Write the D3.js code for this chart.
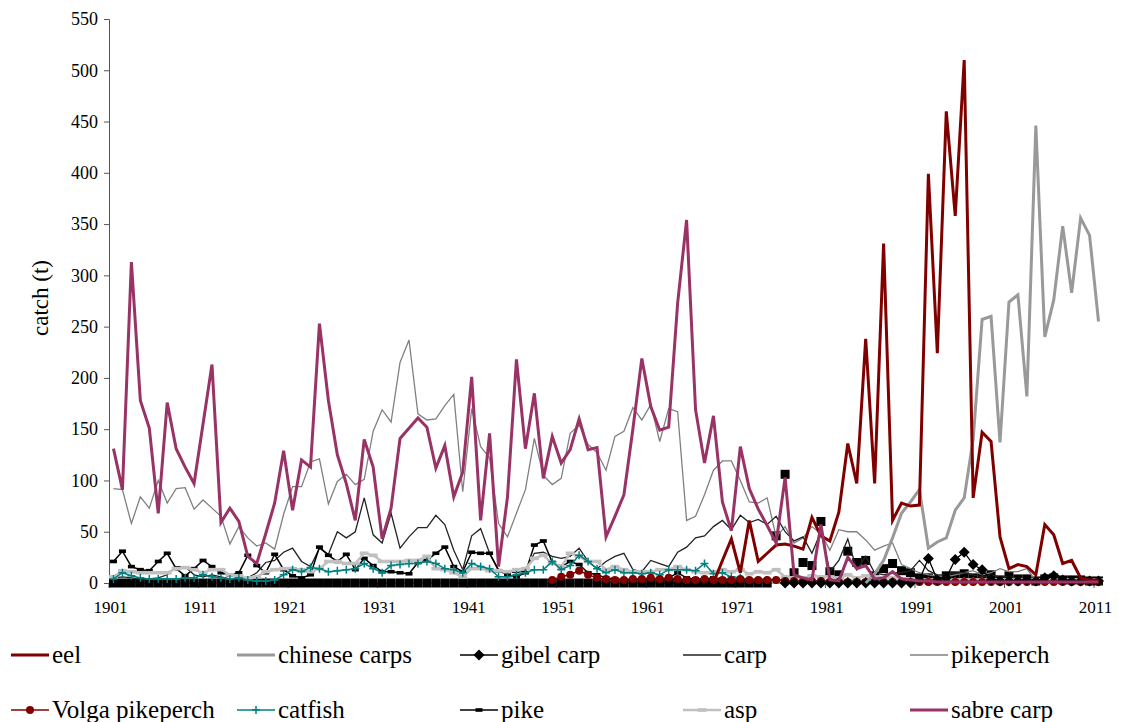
<!DOCTYPE html>
<html><head><meta charset="utf-8">
<script src="https://cdn.jsdelivr.net/npm/d3@7"></script>
<style>body{margin:0;background:#fff;} svg text{font-family:"Liberation Serif","Times New Roman",serif;}</style>
</head><body>
<svg id="chart" width="1121" height="722"></svg>
<script>
const FONT = '"Liberation Serif","Times New Roman",serif';
const years = d3.range(1901, 2012);
const xLabels = [1901,1911,1921,1931,1941,1951,1961,1971,1981,1991,2001,2011];
const yTicks = [0,50,100,150,200,250,300,350,400,450,500,550];
const N = null;

const sabreCarp = [131,91,313,178,151,68,176,131,113,97,
 155,213,59,73,60,26,19,48,78,129,
 71,120,113,253,178,125,97,61,140,113,
 43,73,141,151,161,152,112,134,84,108,
 201,61,146,16,84,218,131,185,102,143,
 117,130,160,130,132,45,65,86,150,219,
 172,149,152,273,354,169,117,163,79,51,
 133,92,72,56,39,103,8,5,3,57,
 3,2,25,14,17,4,5,11,4,3,
 2,2,1,1,1,1,1,1,1,1,
 1,1,1,1,1,1,1,1,1,1,1];
const pikeperch = [92,91,58,84,73,100,78,92,93,72,
 81,73,65,38,55,44,36,39,33,67,
 94,94,118,121,77,99,106,96,101,148,
 169,157,215,237,165,159,160,173,184,89,
 170,133,122,58,45,68,91,141,105,96,
 102,146,154,135,127,110,143,148,171,159,
 174,138,170,167,61,65,86,110,119,119,
 100,79,78,83,45,55,39,44,55,48,
 32,52,50,50,42,32,36,39,18,14,
 10,8,7,6,8,10,12,8,10,14,
 11,11,14,2,3,3,4,3,3,3,3];
const carp = [5,6,5,4,4,5,8,16,16,8,
 6,8,6,4,3,5,10,20,22,30,
 34,21,16,34,28,50,44,50,83,47,
 39,68,34,45,54,54,66,57,32,13,
 46,53,29,13,11,10,12,29,30,26,
 24,26,34,21,14,21,26,29,13,11,
 22,19,16,30,35,44,46,55,61,52,
 66,59,62,57,65,50,41,45,29,50,
 11,22,43,13,26,10,8,10,10,12,
 22,12,8,8,10,10,8,6,8,6,
 6,5,5,4,5,4,4,4,3,3,3];
const pike = [21,31,16,13,12,21,29,14,7,14,
 22,16,10,8,10,27,17,10,28,13,
 7,5,8,35,27,21,28,13,24,17,
 11,11,10,9,20,22,29,35,16,11,
 30,29,29,12,8,6,10,37,41,20,
 16,21,18,10,8,5,4,3,3,4,
 4,4,5,10,5,4,4,5,4,3,
 3,3,3,3,3,3,2,2,2,2,
 2,2,2,2,2,2,2,2,2,2,
 2,2,2,2,2,2,2,2,2,2,
 2,2,2,2,2,2,2,2,2,2,2];
const asp = [6,12,11,10,10,10,10,14,15,13,
 10,13,13,8,7,5,6,11,13,14,
 14,13,11,14,21,21,19,19,29,27,
 21,21,21,22,22,26,14,13,10,6,
 14,14,12,12,11,13,14,24,27,19,
 16,29,26,21,21,13,16,13,11,11,
 11,13,13,16,13,11,10,11,13,11,
 13,9,11,10,13,6,5,5,7,6,
 6,5,8,5,7,6,5,5,4,4,
 3,3,3,3,3,3,3,3,3,3,
 3,3,3,3,3,3,3,3,3,3,3];
const catfish = [4,10,7,5,4,4,4,4,5,5,
 8,6,5,4,5,3,2,2,3,8,
 13,11,15,14,11,12,13,14,19,14,
 10,17,18,19,19,21,19,14,13,10,
 19,16,14,6,6,8,10,13,13,21,
 13,17,27,21,14,10,13,10,10,9,
 10,8,13,13,13,12,19,9,10,6,
 5,3,3,3,3,2,2,2,2,2,
 2,2,2,2,2,2,2,2,2,2,
 2,2,2,2,2,2,2,2,2,2,
 2,2,2,2,2,2,2,2,2,2,2];
const volgaPikeperch = [N,N,N,N,N,N,N,N,N,N,
 N,N,N,N,N,N,N,N,N,N,
 N,N,N,N,N,N,N,N,N,N,
 N,N,N,N,N,N,N,N,N,N,
 N,N,N,N,N,N,N,N,N,3,
 6,8,12,8,5,4,3,3,4,4,
 5,4,5,4,3,3,4,3,3,3,
 4,3,3,3,3,2,2,2,2,2,
 1,1,1,1,1,1,1,1,1,1,
 1,1,1,1,1,1,1,1,1,1,
 1,1,1,1,1,1,1,1,1,1,1];
const gibelCarp = [N,N,N,N,N,N,N,N,N,N,
 N,N,N,N,N,N,N,N,N,N,
 N,N,N,N,N,N,N,N,N,N,
 N,N,N,N,N,N,N,N,N,N,
 N,N,N,N,N,N,N,N,N,N,
 N,N,N,N,N,N,N,N,N,N,
 N,N,N,N,N,N,N,N,N,N,
 N,N,N,N,N,0,0,0,0,0,
 0,0,0,0,0,0,0,0,0,0,
 3,24,3,5,23,30,18,13,3,2,
 2,2,3,2,5,7,3,2,2,2,2];
const eel = [N,N,N,N,N,N,N,N,N,N,
 N,N,N,N,N,N,N,N,N,N,
 N,N,N,N,N,N,N,N,N,N,
 N,N,N,N,N,N,N,N,N,N,
 N,N,N,N,N,N,N,N,N,N,
 N,N,N,N,N,N,N,N,N,N,
 N,N,N,N,N,N,N,0,22,43,
 10,61,21,29,37,38,36,33,64,46,
 41,69,136,97,238,97,331,61,78,75,
 76,399,224,460,358,510,83,147,138,45,
 14,18,16,8,57,47,19,22,5,3,3];
const chineseCarps = [N,N,N,N,N,N,N,N,N,N,
 N,N,N,N,N,N,N,N,N,N,
 N,N,N,N,N,N,N,N,N,N,
 N,N,N,N,N,N,N,N,N,N,
 N,N,N,N,N,N,N,N,N,N,
 N,N,N,N,N,N,N,N,N,N,
 N,N,N,N,N,N,N,N,N,N,
 N,N,N,N,N,N,N,N,N,N,
 N,N,N,N,0,9,22,44,68,79,
 91,34,40,44,71,83,140,257,260,137,
 274,281,182,446,240,276,348,283,356,339,255];
const otherSquares = [0,0,0,0,0,0,0,0,0,0,
 0,0,0,0,0,0,0,0,0,0,
 0,0,0,0,0,0,0,0,0,0,
 0,0,0,0,0,0,0,0,0,0,
 0,0,0,0,0,0,0,0,0,0,
 0,0,0,0,0,0,0,0,0,0,
 0,0,0,0,0,0,0,0,0,0,
 0,0,0,0,46,106,10,20,17,60,
 11,8,31,20,22,7,14,19,12,10,
 5,5,3,7,7,9,5,6,8,3,
 7,4,4,2,4,5,3,3,3,2,2];

const series = [
 {name:"squares", values:otherSquares, color:"#000", width:0, marker:"square"},
 {name:"pikeperch", values:pikeperch, color:"#808080", width:1.3, marker:null},
 {name:"carp", values:carp, color:"#222", width:1.3, marker:null},
 {name:"pike", values:pike, color:"#000", width:1.5, marker:"dash"},
 {name:"asp", values:asp, color:"#c0c0c0", width:2.5, marker:"dashLight"},
 {name:"catfish", values:catfish, color:"#008080", width:1.5, marker:"plus"},
 {name:"Volga pikeperch", values:volgaPikeperch, color:"#800000", width:1.5, marker:"circle"},
 {name:"gibel carp", values:gibelCarp, color:"#000", width:1.3, marker:"diamond"},
 {name:"chinese carps", values:chineseCarps, color:"#999999", width:3, marker:null},
 {name:"eel", values:eel, color:"#800000", width:3, marker:null},
 {name:"sabre carp", values:sabreCarp, color:"#993366", width:3, marker:null}
];

const svg = d3.select("#chart");
const x = d3.scaleBand().domain(years).range([109, 1103]);
const cx = yr => x(yr) + x.bandwidth()/2;
const y = d3.scaleLinear().domain([0,550]).range([583, 19]);

const yAxis = svg.append("g").attr("transform","translate(109,0)")
  .call(d3.axisLeft(y).tickValues(yTicks).tickSize(5).tickPadding(6));
yAxis.attr("font-family", FONT).attr("font-size", 18);
yAxis.selectAll("text").attr("fill","#000");
yAxis.selectAll("line,path").attr("stroke","#555");

const xg = svg.append("g").attr("transform","translate(0,583)");
xg.append("line").attr("x1",109).attr("x2",1103).attr("stroke","#555");
xg.selectAll("line.t").data(xLabels).enter().append("line")
  .attr("x1",d=>x(d)).attr("x2",d=>x(d)).attr("y1",0).attr("y2",5).attr("stroke","#555");
xg.selectAll("text").data(xLabels).enter().append("text")
  .attr("x",d=>cx(d)-3).attr("y",30).attr("text-anchor","middle")
  .attr("font-family",FONT).attr("font-size",17).text(d=>d);

svg.append("text").attr("transform","translate(48,298) rotate(-90)")
  .attr("text-anchor","middle").attr("font-family",FONT).attr("font-size",23).text("catch (t)");

function drawMarker(g, type, color){
  if(type==="square") g.append("rect").attr("x",-4.5).attr("y",-4.5).attr("width",9).attr("height",9).attr("fill","#000");
  else if(type==="dash") g.append("rect").attr("x",-3.5).attr("y",-1.8).attr("width",7).attr("height",3.6).attr("fill","#000");
  else if(type==="dashLight") g.append("rect").attr("x",-4.5).attr("y",-1.8).attr("width",9).attr("height",3.6).attr("fill","#c0c0c0");
  else if(type==="plus"){ g.append("path").attr("d","M-4,0H4M0,-4V4").attr("stroke",color).attr("stroke-width",1.5); }
  else if(type==="circle") g.append("circle").attr("r",4).attr("fill",color);
  else if(type==="diamond") g.append("path").attr("d","M0,-5.5L5.5,0L0,5.5L-5.5,0Z").attr("fill","#000");
}

const line = d3.line().defined(d=>d.v!==null).x(d=>cx(d.yr)).y(d=>y(d.v));
series.forEach(s=>{
  const pts = years.map((yr,i)=>({yr, v:s.values[i]}));
  const g = svg.append("g");
  if(s.width>0) g.append("path").datum(pts).attr("d",line).attr("fill","none")
    .attr("stroke",s.color).attr("stroke-width",s.width).attr("stroke-linejoin","miter");
  if(s.marker){
    pts.filter(p=>p.v!==null).forEach(p=>{
      const m = g.append("g").attr("transform",`translate(${cx(p.yr)},${y(p.v)})`);
      drawMarker(m, s.marker, s.color);
    });
  }
});

const legendItems = [
 {name:"eel", x:11, y:655}, {name:"chinese carps", x:237, y:655}, {name:"gibel carp", x:460, y:655},
 {name:"carp", x:683, y:655}, {name:"pikeperch", x:910, y:655},
 {name:"Volga pikeperch", x:11, y:710}, {name:"catfish", x:237, y:710}, {name:"pike", x:460, y:710},
 {name:"asp", x:683, y:710}, {name:"sabre carp", x:910, y:710}
];
legendItems.forEach(li=>{
  const s = series.find(d=>d.name===li.name);
  const g = svg.append("g").attr("transform",`translate(${li.x},${li.y})`);
  g.append("line").attr("x1",0).attr("x2",38).attr("stroke",s.color).attr("stroke-width",s.width);
  if(s.marker){ const m=g.append("g").attr("transform","translate(19,0)"); drawMarker(m,s.marker,s.color); }
  g.append("text").attr("x",41).attr("y",8).attr("font-family",FONT).attr("font-size",25).text(s.name);
});
</script>
</body></html>
